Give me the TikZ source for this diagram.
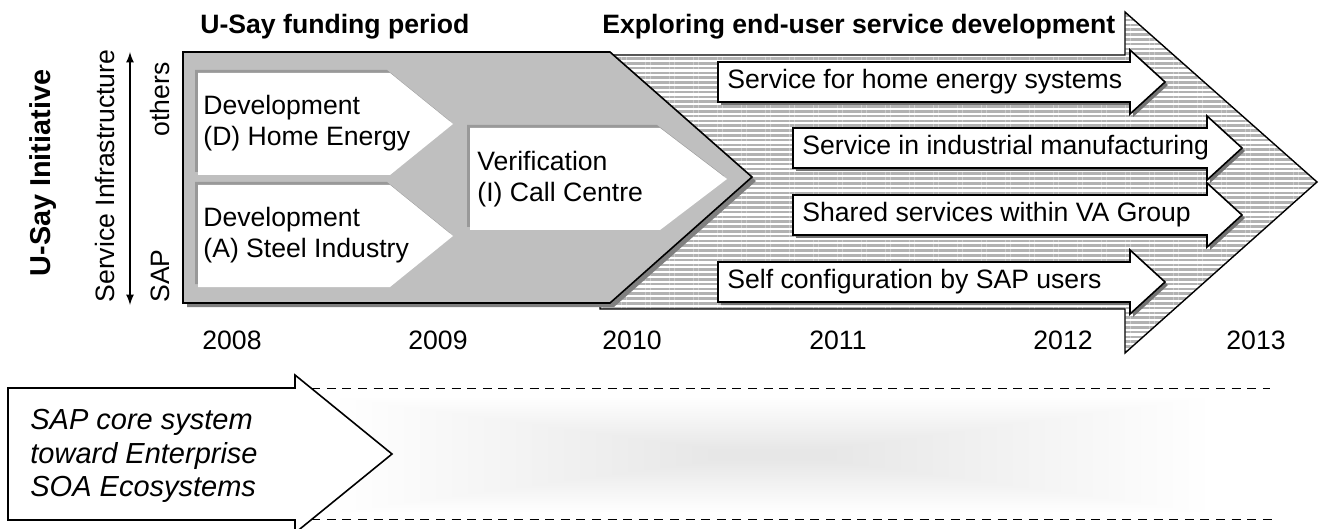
\documentclass[tikz,border=0pt]{standalone}
\usepackage{fontspec}
\setmainfont{Liberation Sans}
\usetikzlibrary{patterns.meta}
\usetikzlibrary{arrows.meta}

\tikzset{
	txt/.style={font=\fontsize{13.3}{15.5}\selectfont, inner sep=0pt},
	ttl/.style={font=\fontsize{13.3}{15.5}\selectfont\bfseries, inner sep=0pt},
	whitebox/.style={draw=black, line width=0.8pt, fill=white},
	shadowbox/.style={fill=black!55},
	hatch/.style={draw=black, line width=0.7pt, preaction={fill=white},
		pattern={Lines[angle=0,distance=2.4pt,line width=1.3pt]}, pattern color=black!30},
}

\begin{document}
\begin{tikzpicture}[x=0.5pt,y=-0.5pt,>=latex]
		\useasboundingbox (0,0) rectangle (1321,529);
		\clip (0,0) rectangle (1321,529);

		%Left side labels
		\node[ttl, font=\fontsize{14.4}{16}\selectfont\bfseries, rotate=90] (init) at (43,173) {U-Say Initiative};
		\node[txt, rotate=90] (infra) at (105,176) {Service Infrastructure};
		\coordinate (infra top) at (130,52);
		\coordinate (infra bot) at (130,305);
		\draw[<->, line width=0.8pt] (infra top) -- (infra bot);
		\node[txt, rotate=90, anchor=east] (others) at (160,62) {others};
		\node[txt, rotate=90, anchor=west] (sap) at (160,303) {SAP};

		%Titles
		\node[ttl, anchor=west] (fund) at (200,27) {U-Say funding period};
		\node[ttl, anchor=west] (expl) at (602,27) {Exploring end-user service development};

		%Big hatched arrow
		\draw[hatch] (600,55) -- (1125,55) -- (1125,12) -- (1317,182) -- (1125,353) -- (1125,309) -- (600,309) -- cycle;

		%Funding period block
		\fill[black!50, shift={(4,4)}] (183,52) -- (610,52) -- (752,177) -- (610,303) -- (183,303) -- cycle;
		\draw[fill=black!25, line width=0.8pt] (183,52) -- (610,52) -- (752,177) -- (610,303) -- (183,303) -- cycle;

		% Development / Verification chevrons
		\foreach \xl/\yt/\xe/\tp in {198/73/390/453, 198/185/390/453, 470/128/660/727}{
			\fill[black!40, shift={(-3,-3)}] (\xl,\yt) -- (\xe,\yt) -- (\tp,\yt+51) -- (\xe,\yt+102) -- (\xl,\yt+102) -- cycle;
			\fill[white] (\xl,\yt) -- (\xe,\yt) -- (\tp,\yt+51) -- (\xe,\yt+102) -- (\xl,\yt+102) -- cycle;
		}
		\node[txt, anchor=west, align=left] (devD) at (203,123) {Development\\(D) Home Energy};
		\node[txt, anchor=west, align=left] (devA) at (203,235) {Development\\(A) Steel Industry};
		\node[txt, anchor=west, align=left] (verI) at (477,179) {Verification\\(I) Call Centre};

		% Service arrows
		\foreach \xl/\yt/\xe/\lbl [count=\n] in {718/62/1130/Service for home energy systems,
				793/128/1207/Service in industrial manufacturing,
				793/195/1207/Shared services within VA Group,
				718/262/1130/Self configuration by SAP users}{
			\fill[shadowbox, shift={(3,3)}] (\xl,\yt) -- (\xe,\yt) -- (\xe,\yt-12) -- (\xe+35,\yt+20) -- (\xe,\yt+52) -- (\xe,\yt+40) -- (\xl,\yt+40) -- cycle;
			\draw[whitebox] (\xl,\yt) -- (\xe,\yt) -- (\xe,\yt-12) -- (\xe+35,\yt+20) -- (\xe,\yt+52) -- (\xe,\yt+40) -- (\xl,\yt+40) -- cycle;
			\node[txt, anchor=west] (srv\n) at (\xl+9,\yt+20) {\lbl};
		}

		%Years
		\foreach \x/\yr in {232/2008, 438/2009, 632/2010, 838/2011, 1063/2012, 1256/2013}{
			\node[txt] (y\yr) at (\x,340) {\yr};
		}

		%Lower band
		\foreach \i in {0,...,23}{
			\fill[black, opacity=0.0045] (340+\i*16,398+\i*2.2) rectangle (1205-\i*16,512-\i*2.2);
		}
		\draw[dash pattern=on 4.5pt off 3.3pt, line width=0.5pt] (280,388) -- (1270,388);
		\draw[dash pattern=on 4.5pt off 3.3pt, line width=0.5pt] (280,519) -- (1272,519);
		\draw[whitebox] (8,388) -- (295,388) -- (295,375) -- (392,454) -- (295,533) -- (295,520) -- (8,520) -- cycle;
		\node[anchor=west, align=left, inner sep=0pt, font=\fontsize{14.5}{16.8}\selectfont\itshape] (core) at (30,456) {SAP core system\\toward Enterprise\\SOA Ecosystems};
	\end{tikzpicture}
\end{document}
